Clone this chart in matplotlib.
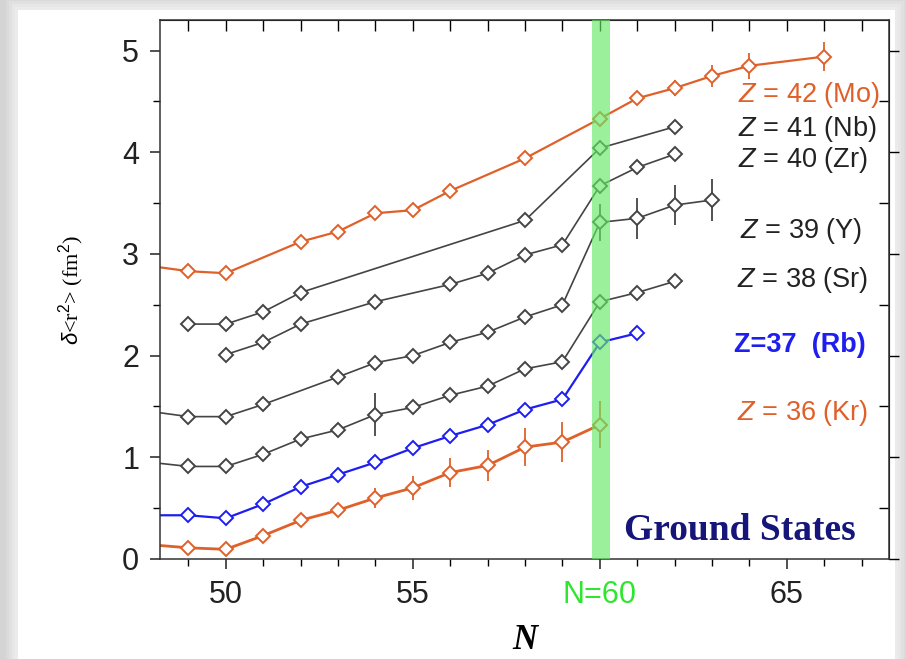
import numpy as np
import matplotlib
matplotlib.use("Agg")
import matplotlib.pyplot as plt
from matplotlib.patches import Rectangle

plt.rcParams['font.family'] = ['Liberation Sans', 'DejaVu Sans']
plt.rcParams['mathtext.fontset'] = 'custom'
plt.rcParams['mathtext.it'] = 'Liberation Sans:italic'
plt.rcParams['mathtext.rm'] = 'Liberation Sans'

# data: N (neutron number) -> delta <r^2> (fm^2)
kr_n = [48, 49, 50, 51, 52, 53, 54, 55, 56, 57, 58, 59, 60]
kr_y = [0.14, 0.11, 0.095, 0.23, 0.38, 0.48, 0.60, 0.70, 0.85, 0.92, 1.10, 1.15, 1.32]
kr_e = [0, 0, 0, 0.02, 0.03, 0.05, 0.10, 0.12, 0.14, 0.15, 0.19, 0.20, 0.23]

rb_n = [48, 49, 50, 51, 52, 53, 54, 55, 56, 57, 58, 59, 60, 61]
rb_y = [0.43, 0.43, 0.40, 0.54, 0.71, 0.83, 0.95, 1.09, 1.21, 1.32, 1.47, 1.57, 2.13, 2.22]

sr_n = [48, 49, 50, 51, 52, 53, 54, 55, 56, 57, 58, 59, 60, 61, 62]
sr_y = [0.95, 0.91, 0.91, 1.03, 1.18, 1.27, 1.42, 1.49, 1.61, 1.70, 1.87, 1.94, 2.53, 2.62, 2.73]
sr_e = [0, 0.03, 0, 0.04, 0.04, 0.05, 0.21, 0.03, 0.03, 0.03, 0.04, 0.04, 0.03, 0.05, 0]

y_n = [48, 49, 50, 51, 53, 54, 55, 56, 57, 58, 59, 60, 61, 62, 63]
y_y = [1.45, 1.40, 1.40, 1.52, 1.79, 1.93, 2.00, 2.13, 2.23, 2.38, 2.50, 3.31, 3.35, 3.48, 3.53]
y_e = [0, 0, 0, 0.03, 0.04, 0, 0, 0, 0, 0, 0.04, 0.18, 0.20, 0.20, 0.21]

zr_n = [50, 51, 52, 54, 56, 57, 58, 59, 60, 61, 62]
zr_y = [2.01, 2.13, 2.31, 2.53, 2.70, 2.81, 2.99, 3.09, 3.67, 3.85, 3.98]
zr_e = [0, 0.04, 0.04, 0.04, 0, 0, 0, 0, 0.04, 0.06, 0.07]

nb_n = [49, 50, 51, 52, 58, 60, 62]
nb_y = [2.31, 2.31, 2.43, 2.62, 3.33, 4.04, 4.25]
nb_e = [0, 0, 0, 0, 0.05, 0, 0]

mo_n = [48, 49, 50, 52, 53, 54, 55, 56, 58, 60, 61, 62, 63, 64, 66]
mo_y = [2.88, 2.83, 2.81, 3.12, 3.22, 3.40, 3.43, 3.62, 3.94, 4.33, 4.53, 4.63, 4.75, 4.85, 4.94]
mo_e = [0, 0.03, 0, 0.03, 0, 0.05, 0.05, 0.03, 0, 0, 0.07, 0.08, 0.11, 0.13, 0.14]

orange = '#e0602a'
blue = '#1e1ef0'
gray = '#444444'

fig = plt.figure(figsize=(9.06, 6.59), dpi=100)
fig.patch.set_facecolor('#d4d4d4')
# white card with soft shadow
for k, a in enumerate([0.25, 0.35, 0.5, 0.7]):
    d = (4 - k) * 3
    fig.add_artist(Rectangle(((18 - d) / 906, 0), (877 + 2 * d) / 906, (649 + d) / 659,
                             transform=fig.transFigure, facecolor='#eeeeee', alpha=a,
                             edgecolor='none', zorder=0))
fig.add_artist(Rectangle((18 / 906, 0), 877 / 906, 649 / 659, transform=fig.transFigure,
                         facecolor='white', edgecolor='none', zorder=0))

ax = fig.add_axes([160 / 906, 1 - 559 / 659, 729 / 906, 539 / 659])
ax.set_facecolor('none')

def draw(n, v, e, col, lw=1.2, mew=1.4):
    ax.errorbar(n, v, yerr=e, color=col, lw=lw, marker='D', ms=7.5, mfc='white',
                mec=col, mew=mew, elinewidth=1.3, capsize=0, clip_on=True)

draw(mo_n, mo_y, mo_e, orange, lw=1.6)
draw(nb_n, nb_y, nb_e, gray)
draw(zr_n, zr_y, zr_e, gray)
draw(y_n, y_y, y_e, gray)
draw(sr_n, sr_y, sr_e, gray)
draw(rb_n, rb_y, None, blue, lw=1.6)
draw(kr_n, kr_y, kr_e, orange, lw=2.0)

ax.axvspan(59.78, 60.26, color='#66e866', alpha=0.65, lw=0, zorder=5)

ax.set_xlim(48.24, 67.73)
ax.set_ylim(0, 5.30)

ax.set_xticks([50, 55, 60, 65])
ax.set_xticklabels(['50', '55', 'N=60', '65'], fontsize=22)
ax.set_xticks(np.arange(49, 68), minor=True)
ax.set_yticks([0, 1, 2, 3, 4, 5])
ax.set_yticklabels(['0', '1', '2', '3', '4', '5'], fontsize=22)
ax.set_yticks(np.arange(0.5, 5.3, 1), minor=True)
ax.tick_params(axis='both', which='major', direction='out', length=7, width=1.1,
               colors='#222222', pad=8)
ax.tick_params(axis='both', which='minor', direction='out', length=5, width=1.0)
ax.get_xticklabels()[2].set_color('#2ee62e')
for s in ax.spines.values():
    s.set_linewidth(1.1)
    s.set_color('#333333')

top = ax.secondary_xaxis('top')
top.set_xticks(np.arange(49, 68))
top.tick_params(direction='in', length=8, width=1.0, labeltop=False)
right = ax.secondary_yaxis('right')
right.set_yticks([0, 1, 2, 3, 4, 5])
right.set_yticks(np.arange(0.5, 5.3, 1), minor=True)
right.tick_params(which='major', direction='out', length=7, width=1.0, labelright=False)
right.tick_params(which='minor', direction='in', length=7, width=1.0)

ax.set_xlabel('N', fontsize=25, fontweight='bold', style='italic',
              family='Liberation Serif', labelpad=10)
ax.set_ylabel(r'$\delta$<r$^2$> (fm$^2$)', fontsize=16, family='Liberation Serif',
              labelpad=26)

lx = 63.7
fs = 19.5
ax.text(lx, 4.56, r'$Z$ = 42 (Mo)', color=orange, fontsize=fs, va='center')
ax.text(lx, 4.23, r'$Z$ = 41 (Nb)', color='#222222', fontsize=fs, va='center')
ax.text(lx, 3.92, r'$Z$ = 40 (Zr)', color='#222222', fontsize=fs, va='center')
ax.text(lx + 0.05, 3.23, r'$Z$ = 39 (Y)', color='#222222', fontsize=fs, va='center')
ax.text(lx - 0.03, 2.74, r'$Z$ = 38 (Sr)', color='#222222', fontsize=fs, va='center')
ax.text(lx - 0.12, 2.10, 'Z=37  (Rb)', color=blue, fontsize=fs, fontweight='bold',
        va='center')
ax.text(lx - 0.03, 1.44, r'$Z$ = 36 (Kr)', color=orange, fontsize=fs, va='center')
ax.text(63.74, 0.285, 'Ground States', color='#15157a', fontsize=27, fontweight='bold',
        family='Liberation Serif', ha='center', va='center', zorder=6)

fig.savefig('out.png', dpi=100, facecolor=fig.get_facecolor())
